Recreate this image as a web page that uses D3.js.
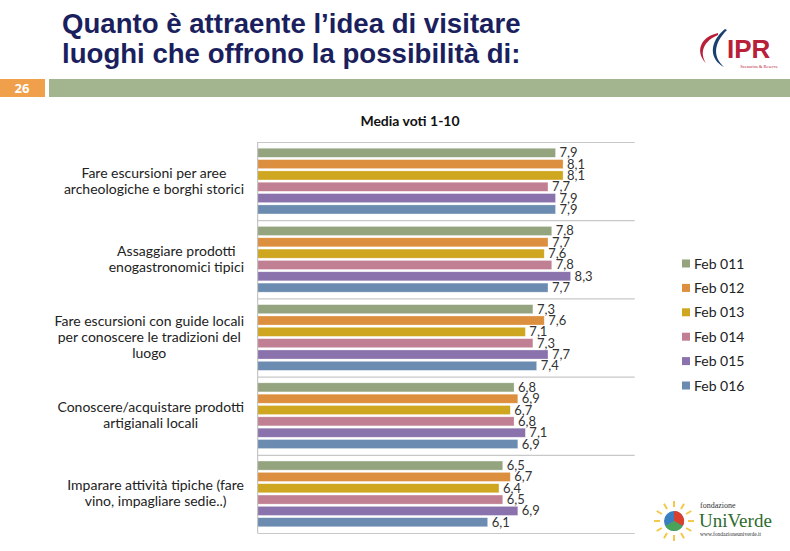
<!DOCTYPE html>
<html><head><meta charset="utf-8">
<script src="https://cdn.jsdelivr.net/npm/d3@7"></script>
<style>body{margin:0;background:#fff}svg{display:block}</style>
</head><body>
<script>
const categories = [
  ["Fare escursioni per aree", "archeologiche e borghi storici"],
  ["Assaggiare prodotti", "enogastronomici tipici"],
  ["Fare escursioni con guide locali", "per conoscere le tradizioni del", "luogo"],
  ["Conoscere/acquistare prodotti", "artigianali locali"],
  ["Imparare attività tipiche (fare", "vino, impagliare sedie..)"]
];
const seriesNames = ["Feb 011", "Feb 012", "Feb 013", "Feb 014", "Feb 015", "Feb 016"];
const feb011 = [7.9, 7.8, 7.3, 6.8, 6.5];
const feb012 = [8.1, 7.7, 7.6, 6.9, 6.7];
const feb013 = [8.1, 7.6, 7.1, 6.7, 6.4];
const feb014 = [7.7, 7.8, 7.3, 6.8, 6.5];
const feb015 = [7.9, 8.3, 7.7, 7.1, 6.9];
const feb016 = [7.9, 7.7, 7.4, 6.9, 6.1];
const seriesValues = [feb011, feb012, feb013, feb014, feb015, feb016];
const colors = ["#94a47f", "#dc8f3e", "#cfa61f", "#c07f92", "#8a72ad", "#6b8cb0"];

const W = 790, H = 551;
const svg = d3.select("body").append("svg").attr("width", W).attr("height", H);
const font = "'Century Gothic','URW Gothic','Lato','DejaVu Sans',sans-serif";

// Header
const title = svg.append("text").attr("font-family", "'Liberation Sans Narrow','Liberation Sans',Arial,sans-serif")
  .attr("font-weight", "bold").attr("font-size", 27.6).attr("fill", "#1b1f5e");
title.append("tspan").attr("x", 62).attr("y", 33).text("Quanto è attraente l’idea di visitare");
title.append("tspan").attr("x", 62).attr("y", 63).text("luoghi che offrono la possibilità di:");

svg.append("rect").attr("x", 0).attr("y", 79).attr("width", 45).attr("height", 18).attr("fill", "#f0a04b");
svg.append("text").attr("x", 22).attr("y", 93).attr("text-anchor", "middle").attr("fill", "#fff")
  .attr("font-family", "'Open Sans',sans-serif").attr("font-weight", "bold").attr("font-size", 13).text("26");
svg.append("rect").attr("x", 49).attr("y", 79).attr("width", 741).attr("height", 18).attr("fill", "#a3b58f");

// IPR logo (approximation)
svg.append("path").attr("d", "M718,33 C700,37 695,52 706,63 C699,52 704,41 718,35 Z").attr("fill", "#b8203a");
svg.append("path").attr("d", "M725,29 C709,42 709,59 724,67 C713,57 713,44 727,30 Z").attr("fill", "#1b3f6e");
svg.append("text").attr("x", 727).attr("y", 58).attr("font-family", "'Liberation Sans',Arial,sans-serif")
  .attr("font-weight", "bold").attr("font-size", 26).attr("fill", "#b8203a").text("IPR");
svg.append("text").attr("x", 778).attr("y", 68).attr("text-anchor", "end").attr("font-family", "'Liberation Serif',serif")
  .attr("font-size", 4.5).attr("fill", "#b8203a").text("Scenarios & Reserve");

// Chart
const x0 = 257.7, x1 = 634.7, yTop = 142, yBot = 533;
const x = d3.scaleLinear().domain([0, 10]).range([x0, x1]);
const yG = d3.scaleBand().domain(d3.range(categories.length)).range([yTop, yBot]).paddingInner(0).paddingOuter(0);
const yS = d3.scaleBand().domain(d3.range(seriesNames.length)).range([0, yG.bandwidth()]).paddingInner(0.2).paddingOuter(0.55);

svg.append("text").attr("x", 410).attr("y", 126).attr("text-anchor", "middle").attr("font-family", font)
  .attr("font-weight", "bold").attr("font-size", 14).attr("fill", "#111").text("Media voti 1-10");

// separators
const seps = d3.range(categories.length + 1).map(i => i < categories.length ? yG(i) : yBot);
svg.selectAll("line.sep").data(seps).join("line").attr("class", "sep")
  .attr("x1", x0).attr("x2", x1).attr("y1", d => d + 0.5).attr("y2", d => d + 0.5)
  .attr("stroke", "#c8c8c8").attr("stroke-width", 1.2);

const groups = svg.selectAll("g.grp").data(categories).join("g").attr("class", "grp")
  .attr("transform", (d, i) => `translate(0,${yG(i)})`);

seriesValues.forEach((vals, s) => {
  groups.append("rect")
    .attr("x", x(0)).attr("y", yS(s)).attr("width", (d, i) => x(vals[i]) - x(0)).attr("height", yS.bandwidth())
    .attr("fill", colors[s]).attr("stroke", "#fff").attr("stroke-opacity", 0.5).attr("stroke-width", 0.6);
  groups.append("text")
    .attr("x", (d, i) => x(vals[i]) + 4).attr("y", yS(s) + yS.bandwidth() / 2 + 4.5)
    .attr("font-family", font).attr("font-size", 13).attr("fill", "#333")
    .text((d, i) => String(vals[i]).replace(".", ","));
});

// axis line
svg.append("line").attr("x1", x0).attr("x2", x0).attr("y1", yTop).attr("y2", yBot)
  .attr("stroke", "#bbb").attr("stroke-width", 1);

// category labels
const lineH = 16;
categories.forEach((lines, i) => {
  const cy = yG(i) + yG.bandwidth() / 2;
  const t = svg.append("text").attr("font-family", font).attr("font-size", 14).attr("fill", "#222");
  const tsp = lines.map((ln, k) => t.append("tspan").attr("y", cy + (k - (lines.length - 1) / 2) * lineH + 4.5).text(ln));
  let maxW = 0;
  tsp.forEach(ts => { maxW = Math.max(maxW, ts.node().getComputedTextLength()); });
  const cx = 244 - maxW / 2;
  tsp.forEach(ts => ts.attr("x", cx).attr("text-anchor", "middle"));
});

// legend
const legend = svg.selectAll("g.leg").data(seriesNames).join("g").attr("class", "leg")
  .attr("transform", (d, i) => `translate(682,${264 + i * 24.4})`);
legend.append("rect").attr("x", 0).attr("y", -4.5).attr("width", 8).attr("height", 8).attr("fill", (d, i) => colors[i]);
legend.append("text").attr("x", 12).attr("y", 4.5).attr("font-family", font).attr("font-size", 14).attr("fill", "#222").text(d => d);

// UniVerde logo (approximation)
const lg = svg.append("g").attr("transform", "translate(674,521)");
d3.range(12).forEach(k => {
  const a = k * Math.PI / 6;
  lg.append("line").attr("x1", Math.cos(a) * 14).attr("y1", Math.sin(a) * 14)
    .attr("x2", Math.cos(a) * 20).attr("y2", Math.sin(a) * 20).attr("stroke", "#f2c94c").attr("stroke-width", 2);
});
lg.append("circle").attr("r", 10).attr("fill", "#3a7fc1");
lg.append("path").attr("d", "M0,-10 A10,10 0 0,1 8.7,5 L0,0 Z").attr("fill", "#d9412e");
lg.append("path").attr("d", "M8.7,5 A10,10 0 0,1 -8.7,5 L0,0 Z").attr("fill", "#4aa35a");
svg.append("text").attr("x", 700).attr("y", 508).attr("font-family", "'Liberation Serif',serif").attr("font-size", 8)
  .attr("fill", "#333").text("fondazione");
svg.append("text").attr("x", 699).attr("y", 527).attr("font-family", "'Liberation Serif',serif").attr("font-size", 19)
  .attr("fill", "#2e6b2e").text("UniVerde");
svg.append("text").attr("x", 700).attr("y", 536).attr("font-family", "'Liberation Serif',serif").attr("font-size", 5.5)
  .attr("fill", "#333").text("www.fondazioneuniverde.it");
</script>
</body></html>
